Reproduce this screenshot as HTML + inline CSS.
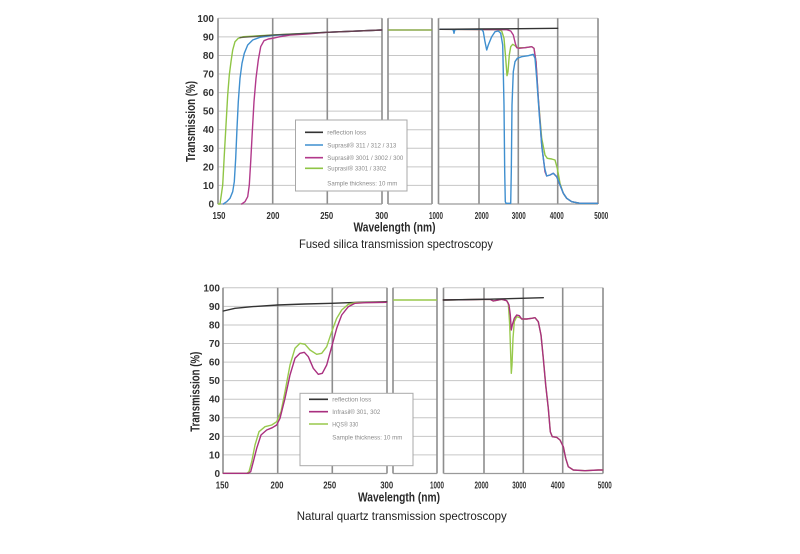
<!DOCTYPE html>
<html>
<head>
<meta charset="utf-8">
<style>
  html,body{margin:0;padding:0;background:#fff;}
  svg{display:block;}
  .tk{font-family:"Liberation Sans Narrow","Liberation Sans",sans-serif;font-weight:bold;font-size:10px;fill:#333;}
  .ax{font-family:"Liberation Sans Narrow","Liberation Sans",sans-serif;font-weight:bold;font-size:12.5px;fill:#2a2a2a;}
  .cap{font-family:"Liberation Sans",sans-serif;font-size:12px;fill:#222;}
  .lg{font-family:"Liberation Sans Narrow","Liberation Sans",sans-serif;font-size:6.5px;fill:#8a8a8a;}
  .hg{stroke:#c6c6c6;stroke-width:1;}
  .vg{stroke:#8e8e8e;stroke-width:1.6;}
  .cv{fill:none;stroke-width:1.4;stroke-linejoin:round;stroke-linecap:round;}
</style>
</head>
<body>
<svg width="800" height="554" viewBox="0 0 800 554" xmlns="http://www.w3.org/2000/svg">
<rect width="800" height="554" fill="#fff"/>
<defs>
  <g id="grid">
    <!-- horizontal grid lines per panel -->
    <g class="hg">
      <path d="M218 185.43H382M218 166.86H382M218 148.29H382M218 129.72H382M218 111.15H382M218 92.58H382M218 74.01H382M218 55.44H382M218 36.87H382M218 18.3H382"/>
      <path d="M388 185.43H432M388 166.86H432M388 148.29H432M388 129.72H432M388 111.15H432M388 92.58H432M388 74.01H432M388 55.44H432M388 36.87H432M388 18.3H432"/>
      <path d="M438.5 185.43H598M438.5 166.86H598M438.5 148.29H598M438.5 129.72H598M438.5 111.15H598M438.5 92.58H598M438.5 74.01H598M438.5 55.44H598M438.5 36.87H598M438.5 18.3H598"/>
    </g>
    <!-- vertical lines -->
    <g class="vg">
      <path d="M218 18.3V204M272.7 18.3V204M327.3 18.3V204M382 18.3V204"/>
      <path d="M388 18.3V204M432 18.3V204"/>
      <path d="M438.5 18.3V204M479 18.3V204M518.3 18.3V204M557.7 18.3V204M598 18.3V204"/>
    </g>
    <!-- bottom axis -->
    <path d="M218 204H382M388 204H432M438.5 204H598" stroke="#9a9a9a" stroke-width="1.3"/>
  </g>
</defs>

<!-- ================= TOP CHART ================= -->
<use href="#grid"/>

<!-- top left panel curves -->
<polyline class="cv" stroke="#8fc545" points="218.3,204 220,204 221.3,195 222.7,185 224.3,155 226,125 227.7,95 229.3,75 231,61.7 232.7,50 235,41.7 238.3,38.3 243.3,36.7 272.7,35 326.7,32.3 381.7,30"/>
<polyline class="cv" stroke="#3f8fcf" points="223.3,204 226.7,201.7 230,198.3 232.7,191.7 234.3,181.7 235.7,158.3 237,128.3 238.3,101.7 240,78.3 242,63.3 244.3,53.3 247.7,45 252.7,40 260,37.3 272.7,35.3 290,34.5 326.7,32.3 381.7,30"/>
<polyline class="cv" stroke="#b2398b" points="241.7,204 245,201.7 247.7,196.7 249.3,185 250.7,161.7 252.3,131.7 254,101.7 256,78.3 258.3,60 260.7,46.7 264,40.7 268.3,39 272.7,38.3 280,36.7 290,35 306.7,34 326.7,32.3 381.7,30"/>
<polyline class="cv" stroke="#4a4238" stroke-opacity="0.75" points="240,37.6 272.7,35.1 326.7,32.3 381.7,30"/>

<!-- top middle panel -->
<line x1="388" y1="30" x2="432" y2="30" stroke="#8aa94a" stroke-width="1.4"/>

<!-- top right panel curves -->
<polyline class="cv" stroke="#8fc545" points="440,29.3 498.3,29.7 501.7,31 504,38.3 505.7,58.3 507,75.7 508,71.7 509.3,55 510.7,46.7 512.7,44.3 515,45.7 517.3,47.7 525,47.7 531.7,46.7 534,48.3 536,61.7 538.3,98.3 541.7,138.3 545,155 547.3,158.3 551.7,159 555,160 557.3,168.3 560,183.3 563.3,193.3 566.7,198.3 571.7,201.7 580,203.3 597.7,203.3"/>
<polyline class="cv" stroke="#b2398b" points="440,29.3 506.7,29.7 510.7,31 513.3,35 515.3,43.3 516.7,47.7 519.3,48.3 525,47.7 531.7,46.7 534,48.3 536,61.7 538.3,98.3 541.7,145 545,171.7 546.7,176 550,175 553.3,173.3 556.7,176.7 560,185 563.3,193.3 566.7,198.3 571.7,201.7 580,203.3 597.7,203.3"/>
<polyline class="cv" stroke="#3f8fcf" points="440,29.3 451.7,29.3 453.3,30 454,33.3 454.7,30 456.7,29.3 481.7,29.3 483.3,31.7 485,41.7 486.7,50 488.3,45 491.7,36.7 495,31.7 498.3,31 500.7,33.3 502.7,45 504,105 504.7,171.7 505.3,201.7 506,203.3 510.7,203.3 511.3,171.7 512,105 513.3,71.7 515,61.7 517.3,58.3 521.7,56.7 528.3,55.7 533.3,54.3 535,58.3 536.7,78.3 539.3,115 542,148.3 544.7,168.3 546.7,176 550,175 553.3,173.3 556.7,176.7 560,185 563.3,193.3 566.7,198.3 571.7,201.7 580,203.3 597.7,203.3"/>
<polyline class="cv" stroke="#333" points="440,29.3 480,29 520,28.7 557.7,28.3"/>

<!-- top legend -->
<rect x="295.5" y="120" width="111.5" height="71" fill="#fff" stroke="#a8a8a8" stroke-width="1"/>
<line x1="305" y1="132.3" x2="323" y2="132.3" stroke="#333" stroke-width="1.6"/>
<line x1="305" y1="145" x2="323" y2="145" stroke="#3f8fcf" stroke-width="1.6"/>
<line x1="305" y1="157.7" x2="323" y2="157.7" stroke="#b2398b" stroke-width="1.6"/>
<line x1="305" y1="168.3" x2="323" y2="168.3" stroke="#8fc545" stroke-width="1.6"/>
<text class="lg" x="327.3" y="134.6" textLength="39" lengthAdjust="spacingAndGlyphs">reflection loss</text>
<text class="lg" x="327.3" y="147.3" textLength="69" lengthAdjust="spacingAndGlyphs">Suprasil® 311 / 312 / 313</text>
<text class="lg" x="327.3" y="160" textLength="76" lengthAdjust="spacingAndGlyphs">Suprasil® 3001 / 3002 / 300</text>
<text class="lg" x="327.3" y="170.6" textLength="59" lengthAdjust="spacingAndGlyphs">Suprasil® 3301 / 3302</text>
<text class="lg" x="327.3" y="185.6" textLength="70" lengthAdjust="spacingAndGlyphs">Sample thickness: 10 mm</text>

<!-- top y ticks -->
<g class="tk" text-anchor="end">
  <text x="214" y="22">100</text>
  <text x="214" y="40.5">90</text>
  <text x="214" y="59">80</text>
  <text x="214" y="77.5">70</text>
  <text x="214" y="96">60</text>
  <text x="214" y="114.7">50</text>
  <text x="214" y="133.2">40</text>
  <text x="214" y="151.8">30</text>
  <text x="214" y="170.4">20</text>
  <text x="214" y="189">10</text>
  <text x="214" y="207.5">0</text>
</g>
<!-- top x ticks -->
<g class="tk" text-anchor="middle">
  <text x="219" y="219" textLength="13" lengthAdjust="spacingAndGlyphs">150</text>
  <text x="273" y="219" textLength="13" lengthAdjust="spacingAndGlyphs">200</text>
  <text x="326.7" y="219" textLength="13" lengthAdjust="spacingAndGlyphs">250</text>
  <text x="381.7" y="219" textLength="13" lengthAdjust="spacingAndGlyphs">300</text>
  <text x="436" y="219" textLength="14" lengthAdjust="spacingAndGlyphs">1000</text>
  <text x="481.7" y="219" textLength="14" lengthAdjust="spacingAndGlyphs">2000</text>
  <text x="518.7" y="219" textLength="14" lengthAdjust="spacingAndGlyphs">3000</text>
  <text x="556.7" y="219" textLength="14" lengthAdjust="spacingAndGlyphs">4000</text>
  <text x="601.3" y="219" textLength="14" lengthAdjust="spacingAndGlyphs">5000</text>
</g>
<text class="ax" x="394.5" y="231.5" text-anchor="middle" textLength="82" lengthAdjust="spacingAndGlyphs">Wavelength (nm)</text>
<text class="ax" transform="translate(195,121.5) rotate(-90)" x="0" y="0" text-anchor="middle" textLength="81" lengthAdjust="spacingAndGlyphs">Transmission (%)</text>
<text class="cap" x="396" y="248" text-anchor="middle" textLength="194" lengthAdjust="spacingAndGlyphs">Fused silica transmission spectroscopy</text>

<!-- ================= BOTTOM CHART ================= -->
<use href="#grid" transform="translate(5,269.5)"/>

<!-- bottom left curves -->
<polyline class="cv" stroke="#333" points="223.3,311 235,308.3 251.7,306.7 277.7,305 305,304 331.7,303.3 358.3,302.3 386.7,301.7"/>
<polyline class="cv" stroke="#98c94c" points="223.3,473.3 246.7,473.3 249,471.7 251.7,461.7 255,445 259,431.7 265,426.7 271.7,425 276.7,421.7 281,411.7 285,391.7 290,365 295,348.3 300,343.3 305,344.3 310,350 316.7,354.3 321.7,353.3 326.7,346.7 331.7,331.7 336.7,318.3 341.7,310 348.3,304.3 355,302.7 386.7,302.3"/>
<polyline class="cv" stroke="#a92f7f" points="223.3,473.3 248.3,473.3 250.7,471.7 253.3,461.7 256.7,448.3 261,435 266.7,430 272.3,427.7 276.7,425 280,418.3 285,398.3 290,375 295,358.3 300,353.3 304.3,352.3 308.3,356.7 313.3,368.3 318.3,374.3 322.3,373.3 326.7,365 331.7,346.7 336.7,328.3 341.7,315 348.3,306.7 355,303.3 365,302.7 386.7,302.3"/>

<!-- bottom middle -->
<line x1="393" y1="300" x2="437" y2="300" stroke="#98c94c" stroke-width="1.4"/>

<!-- bottom right curves -->
<polyline class="cv" stroke="#98c94c" points="443.3,300 490,299.3 493.3,301 496.7,300.3 501.7,299.3 506.7,300.7 508.3,303.3 509.7,325 510.7,355 511.3,373.3 512,365 513,338.3 514.3,321.7 516.7,316.7 520,317.7 521.7,319 526.7,319 531.7,318.3 535,317.7 538.3,321.7 541,335 543.3,358.3 545.7,385 548.3,408.3 550.3,431.7 552.3,436.7 556.7,437.3 560,440 563.3,446.7 565.7,458.3 568.3,466.7 573.3,470 585,470.7 598.3,470 602.7,470"/>
<polyline class="cv" stroke="#a92f7f" points="443.3,300 490,299.3 493.3,301 496.7,300.3 501.7,299.3 506.7,300.7 509,305 510.3,315 511.3,330 512.3,325 514.3,318.3 516.7,315 519.3,315.7 521.7,319 526.7,319 531.7,318.3 535,317.7 538.3,321.7 541,335 543.3,358.3 545.7,385 548.3,408.3 550.3,431.7 552.3,436.7 556.7,437.3 560,440 563.3,446.7 565.7,458.3 568.3,466.7 573.3,470 585,470.7 598.3,470 602.7,470"/>
<polyline class="cv" stroke="#333" points="443.3,300 490,299.2 543.3,297.7"/>

<!-- bottom legend -->
<rect x="300" y="393.3" width="113" height="72.4" fill="#fff" stroke="#a8a8a8" stroke-width="1"/>
<line x1="309" y1="399.3" x2="328" y2="399.3" stroke="#333" stroke-width="1.6"/>
<line x1="309" y1="411.7" x2="328" y2="411.7" stroke="#a92f7f" stroke-width="1.6"/>
<line x1="309" y1="424" x2="328" y2="424" stroke="#98c94c" stroke-width="1.6"/>
<text class="lg" x="332.3" y="401.6" textLength="39" lengthAdjust="spacingAndGlyphs">reflection loss</text>
<text class="lg" x="332.3" y="414" textLength="48" lengthAdjust="spacingAndGlyphs">Infrasil® 301, 302</text>
<text class="lg" x="332.3" y="426.3" textLength="26" lengthAdjust="spacingAndGlyphs">HQS® 330</text>
<text class="lg" x="332.3" y="439.6" textLength="70" lengthAdjust="spacingAndGlyphs">Sample thickness: 10 mm</text>

<!-- bottom y ticks -->
<g class="tk" text-anchor="end">
  <text x="220" y="291.3">100</text>
  <text x="220" y="309.8">90</text>
  <text x="220" y="328.4">80</text>
  <text x="220" y="347">70</text>
  <text x="220" y="365.5">60</text>
  <text x="220" y="384.1">50</text>
  <text x="220" y="402.7">40</text>
  <text x="220" y="421.3">30</text>
  <text x="220" y="439.8">20</text>
  <text x="220" y="458.4">10</text>
  <text x="220" y="477">0</text>
</g>
<!-- bottom x ticks -->
<g class="tk" text-anchor="middle">
  <text x="222.3" y="488.5" textLength="13" lengthAdjust="spacingAndGlyphs">150</text>
  <text x="277" y="488.5" textLength="13" lengthAdjust="spacingAndGlyphs">200</text>
  <text x="329.7" y="488.5" textLength="13" lengthAdjust="spacingAndGlyphs">250</text>
  <text x="386.7" y="488.5" textLength="13" lengthAdjust="spacingAndGlyphs">300</text>
  <text x="437" y="488.5" textLength="14" lengthAdjust="spacingAndGlyphs">1000</text>
  <text x="481.5" y="488.5" textLength="14" lengthAdjust="spacingAndGlyphs">2000</text>
  <text x="519.3" y="488.5" textLength="14" lengthAdjust="spacingAndGlyphs">3000</text>
  <text x="557.7" y="488.5" textLength="14" lengthAdjust="spacingAndGlyphs">4000</text>
  <text x="604.7" y="488.5" textLength="14" lengthAdjust="spacingAndGlyphs">5000</text>
</g>
<text class="ax" x="399" y="501.5" text-anchor="middle" textLength="82" lengthAdjust="spacingAndGlyphs">Wavelength (nm)</text>
<text class="ax" transform="translate(199.5,391.7) rotate(-90)" x="0" y="0" text-anchor="middle" textLength="80" lengthAdjust="spacingAndGlyphs">Transmission (%)</text>
<text class="cap" x="401.7" y="520" text-anchor="middle" textLength="210" lengthAdjust="spacingAndGlyphs">Natural quartz transmission spectroscopy</text>
</svg>
</body>
</html>
